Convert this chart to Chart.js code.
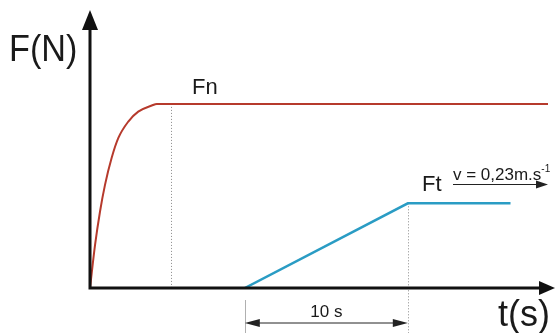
<!DOCTYPE html>
<html>
<head>
<meta charset="utf-8">
<script src="https://cdn.jsdelivr.net/npm/chart.js@4/dist/chart.umd.min.js"></script>
<style>
  body { margin: 0; background: #fff; }
  #box { width: 555px; height: 333px; position: relative; }
</style>
</head>
<body>
<div id="box"><canvas id="grafico"></canvas></div>
<script>
// Fn: normal force, rises quickly then stays flat
const fnTiempo = [0, 0.31, 0.61, 0.92, 1.33, 1.74, 2.35, 2.96, 3.79, 4.1, 28.1];
const fnFuerza = [0, 23.4, 41.3, 56, 70.7, 81.5, 90.4, 95.8, 99.1, 100, 100];
// Ft: tangential force, linear ramp over 10 s then flat
const ftTiempo = [9.5, 19.5, 25.8];
const ftFuerza = [0, 46, 46];
// guide lines and the 10 s dimension
const guiaFn = 5;
const rampaInicio = 9.5;
const rampaFin = 19.5;

const tMax = 28.53;
const fMax = 151;

const fuente = '"Liberation Sans", Arial, sans-serif';

function puntos(xs, ys) {
    return xs.map((x, i) => ({ x: x, y: ys[i] }));
}

function flecha(ctx, x, y, ang, largo, ancho) {
    ctx.save();
    ctx.translate(x, y);
    ctx.rotate(ang);
    ctx.beginPath();
    ctx.moveTo(0, 0);
    ctx.lineTo(-largo, -ancho);
    ctx.lineTo(-largo, ancho);
    ctx.closePath();
    ctx.fill();
    ctx.restore();
}

const dibujoExtra = {
    id: 'dibujoExtra',
    beforeDatasetsDraw(chart) {
        const ctx = chart.ctx;
        const xs = chart.scales.x, ys = chart.scales.y;
        const y0 = ys.getPixelForValue(0);
        ctx.save();
        // dotted guides
        ctx.strokeStyle = '#8a8a8a';
        ctx.lineWidth = 1;
        ctx.setLineDash([1, 2]);
        let gx = Math.round(xs.getPixelForValue(guiaFn)) + 0.5;
        ctx.beginPath();
        ctx.moveTo(gx, ys.getPixelForValue(100));
        ctx.lineTo(gx, y0);
        ctx.stroke();
        gx = Math.round(xs.getPixelForValue(rampaFin)) + 0.5;
        ctx.beginPath();
        ctx.moveTo(gx, ys.getPixelForValue(46));
        ctx.lineTo(gx, chart.height);
        ctx.stroke();
        ctx.setLineDash([]);
        // solid guide at ramp start, below the axis
        gx = Math.round(xs.getPixelForValue(rampaInicio)) + 0.5;
        ctx.strokeStyle = '#b0b0b0';
        ctx.beginPath();
        ctx.moveTo(gx, y0 + 12);
        ctx.lineTo(gx, chart.height);
        ctx.stroke();
        ctx.restore();
    },
    afterDatasetsDraw(chart) {
        const ctx = chart.ctx;
        const xs = chart.scales.x, ys = chart.scales.y;
        const x0 = xs.getPixelForValue(0), y0 = ys.getPixelForValue(0);
        const right = chart.width, top = ys.getPixelForValue(fMax);
        ctx.save();
        // axes
        ctx.strokeStyle = '#111';
        ctx.fillStyle = '#111';
        ctx.lineWidth = 3;
        ctx.beginPath();
        ctx.moveTo(x0, y0 + 1.5);
        ctx.lineTo(x0, top + 15);
        ctx.moveTo(x0 - 1.5, y0);
        ctx.lineTo(right - 12, y0);
        ctx.stroke();
        flecha(ctx, x0, top, -Math.PI / 2, 20, 8);
        flecha(ctx, right, y0, 0, 16, 7);

        // 10 s dimension
        const dy = y0 + 35;
        const da = xs.getPixelForValue(rampaInicio), db = xs.getPixelForValue(rampaFin);
        ctx.lineWidth = 1;
        ctx.strokeStyle = '#222';
        ctx.fillStyle = '#222';
        ctx.beginPath();
        ctx.moveTo(da + 10, dy);
        ctx.lineTo(db - 10, dy);
        ctx.stroke();
        flecha(ctx, da, dy, Math.PI, 15, 4);
        flecha(ctx, db, dy, 0, 15, 4);

        // texts
        ctx.fillStyle = '#1a1a1a';
        ctx.textBaseline = 'alphabetic';
        ctx.textAlign = 'left';
        ctx.font = '36px ' + fuente;
        ctx.save();
        ctx.translate(9, 61);
        ctx.scale(0.95, 1);
        ctx.fillText('F(N)', 0, 0);
        ctx.restore();
        ctx.fillText('t(s)', 498, 326);
        ctx.font = '22px ' + fuente;
        ctx.fillText('Fn', 192, 94);
        ctx.fillText('Ft', 422, 191);
        ctx.font = '17px ' + fuente;
        ctx.textAlign = 'center';
        ctx.fillText('10 s', (da + db) / 2, y0 + 29);
        ctx.textAlign = 'left';
        ctx.fillText('v = 0,23m.s', 453, 180);
        const w = ctx.measureText('v = 0,23m.s').width;
        ctx.font = '10px ' + fuente;
        ctx.fillText('-1', 453 + w, 172);
        // velocity arrow
        ctx.strokeStyle = '#222';
        ctx.fillStyle = '#222';
        ctx.lineWidth = 1;
        ctx.beginPath();
        ctx.moveTo(453, 184.5);
        ctx.lineTo(540, 184.5);
        ctx.stroke();
        flecha(ctx, 548, 184.5, 0, 12, 4);
        ctx.restore();
    }
};

const ctx = document.getElementById('grafico').getContext('2d');
const grafico = new Chart(ctx, {
    type: 'line',
    data: {
        datasets: [{
            label: 'Fn',
            data: puntos(fnTiempo, fnFuerza),
            borderColor: '#b63a2c',
            borderWidth: 2,
            pointRadius: 0,
            cubicInterpolationMode: 'monotone',
            fill: false
        }, {
            label: 'Ft',
            data: puntos(ftTiempo, ftFuerza),
            borderColor: '#2a9cc4',
            borderWidth: 2.5,
            pointRadius: 0,
            tension: 0,
            fill: false
        }]
    },
    options: {
        responsive: true,
        maintainAspectRatio: false,
        animation: false,
        layout: { padding: { left: 90, right: 0, top: 10, bottom: 45 } },
        plugins: { legend: { display: false }, tooltip: { enabled: false } },
        scales: {
            x: { type: 'linear', min: 0, max: tMax, display: false },
            y: { type: 'linear', min: 0, max: fMax, display: false }
        }
    },
    plugins: [dibujoExtra]
});
</script>
</body>
</html>
